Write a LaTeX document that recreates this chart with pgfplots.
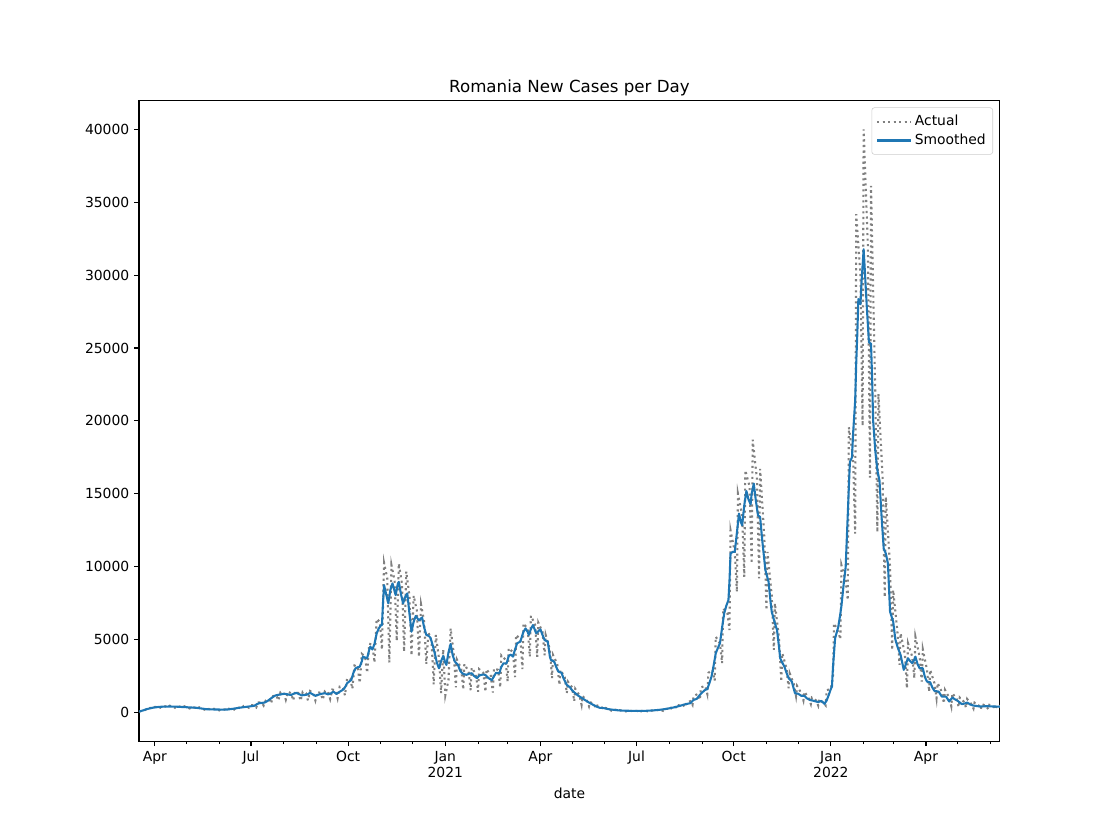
\documentclass[border=0pt]{standalone}
\usepackage{fontspec}
\setmainfont{DejaVu Sans}
\usepackage{pgfplots}
\pgfplotsset{compat=1.18}
\definecolor{tabblue}{HTML}{1F77B4}
\definecolor{mplgray}{HTML}{808080}
\begin{document}
\begin{tikzpicture}
\path[use as bounding box] (-100.08pt,-66.24pt) rectangle (699.92pt,533.76pt);
\begin{axis}[
  scale only axis,
  width=619.92pt, height=461.52pt,
  xmin=76, xmax=891, ymin=-2000, ymax=42000,
  axis line style={line width=0.8pt},
  tick align=outside,
  tick pos=left,
  major tick length=3.5pt, minor tick length=2pt,
  major tick style={black, line width=0.8pt},
  minor tick style={black, line width=0.6pt},
  xtick={91,182,274,366,456,547,639,731,821},
  xticklabels={Apr,Jul,Oct,{Jan\\2021},Apr,Jul,Oct,{Jan\\2022},Apr},
  minor xtick={121,152,213,244,305,335,397,425,486,517,578,609,670,700,762,790,851,882},
  ytick={0,5000,10000,15000,20000,25000,30000,35000,40000},
  scaled y ticks=false,
  /pgf/number format/1000 sep={},
  /pgf/number format/assume math mode=true,
  tick label style={font=\fontsize{10}{12}\selectfont},
  xticklabel style={align=center},
  xlabel={date},
  xlabel style={font=\fontsize{10}{12}\selectfont},
  title={Romania New Cases per Day},
  title style={font=\fontsize{12}{14.4}\selectfont, at={(0.5,1)}, anchor=south, yshift=-3.4pt, inner sep=0pt},
  legend cell align=left,
  legend image code/.code={\draw[#1] (0pt,0pt) -- (21pt,0pt); \path (0pt,0pt) -- (24.5pt,0pt);},
  legend style={at={(0.992,0.989)}, anchor=north east, draw=black!20, rounded corners=2pt,
    fill=white, font=\fontsize{10}{12}\selectfont, inner xsep=3pt, inner ysep=3.5pt, row sep=0.5pt},
]
\addplot[mplgray, line width=1.5pt, dash pattern=on 1.5pt off 2.475pt] coordinates {
(76,30) (80,110) (82,150) (84,260) (87,290) (89,250) (91,360) (94,340) (96,300) (98,430)
(101,400) (103,320) (105,440) (108,380) (110,300) (112,430) (115,370) (117,290) (119,400) (122,330)
(124,250) (126,370) (129,300) (131,230) (133,330) (136,250) (138,170) (140,260) (143,200) (145,140)
(147,230) (150,180) (152,120) (154,210) (157,180) (159,120) (161,230) (164,220) (166,170) (168,330)
(171,300) (173,220) (175,420) (178,400) (180,300) (182,470) (185,470) (187,330) (189,660) (192,680)
(194,450) (196,800) (199,900) (201,600) (203,1100) (206,1150) (208,800) (210,1380) (213,1350) (215,850)
(217,1400) (220,1300) (222,800) (224,1450) (227,1300) (229,780) (231,1400) (234,1300) (236,800) (238,1450)
(241,1300) (243,800) (245,1400) (248,1300) (250,850) (252,1450) (255,1400) (257,900) (259,1550) (262,1500)
(264,950) (266,1750) (269,1700) (271,1150) (273,2300) (276,2300) (278,1600) (280,3200) (283,3100) (285,2000)
(287,4000) (290,3800) (292,2700) (294,4700) (297,4600) (299,3400) (301,6400) (304,6200) (306,4300) (308,10250)
(311,9200) (313,3400) (315,10100) (318,9000) (320,4900) (322,10200) (325,8800) (327,4150) (329,9650) (332,8000)
(334,3900) (336,8000) (339,7000) (341,3800) (343,7400) (346,6200) (348,3300) (350,5500) (353,4800) (355,1900)
(357,5300) (360,3700) (362,1300) (364,4300) (366,1150) (369,2200) (371,5750) (374,4000) (376,1700) (377,3600)
(381,3000) (383,1550) (384,3300) (388,2800) (390,1500) (391,3050) (395,2600) (397,1400) (398,2950) (402,2700)
(404,1400) (405,2950) (409,2500) (411,1350) (412,3000) (416,2900) (418,1700) (419,3900) (423,3600) (425,2100)
(426,4400) (430,4100) (432,2400) (433,5300) (437,5000) (439,2950) (440,6100) (444,5700) (446,3800) (447,6620)
(451,6000) (453,3800) (454,6150) (458,5500) (460,3900) (461,5300) (465,4300) (467,2330) (468,3920) (472,3300)
(474,1870) (475,2900) (479,2400) (481,1300) (482,2100) (486,1700) (488,750) (489,1600) (493,1150) (495,500)
(496,1100) (500,800) (502,400) (503,700) (507,500) (509,250) (510,450) (514,330) (516,180) (517,300)
(521,230) (523,110) (524,200) (528,150) (530,70) (531,130) (535,100) (537,50) (538,100) (542,85)
(544,40) (545,90) (549,75) (551,40) (552,90) (556,85) (558,45) (559,100) (563,100) (565,60)
(566,140) (570,150) (572,90) (573,220) (577,230) (579,150) (580,320) (584,360) (586,250) (587,480)
(591,500) (593,330) (594,650) (598,750) (600,500) (601,1100) (605,1250) (607,840) (608,1700) (612,1800)
(614,1250) (615,2700) (619,2900) (621,2160) (622,5180) (626,4700) (628,3360) (629,7120) (633,6800) (635,5640)
(636,12490) (640,11000) (642,8260) (643,15000) (647,13500) (649,9290) (650,16600) (654,15500) (656,10200) (657,18700)
(661,16000) (663,9180) (664,16700) (668,12000) (670,7010) (671,11000) (675,8000) (677,4270) (678,7470) (682,5000)
(684,2100) (685,4040) (689,3000) (691,1640) (692,2670) (696,1900) (698,1100) (699,1800) (703,1300) (705,800)
(706,1400) (710,950) (712,560) (713,1000) (717,800) (719,450) (720,900) (724,600) (726,450) (727,1500)
(731,1600) (733,2500) (734,6100) (738,5500) (740,5000) (741,10090) (745,9000) (747,7690) (748,19560) (752,17500)
(754,12260) (755,34180) (759,30000) (761,19650) (762,40000) (766,32000) (768,16100) (769,36120) (773,22000) (775,12350)
(776,21850) (780,16000) (782,7900) (783,14770) (787,10000) (789,4270) (790,8380) (794,5500) (796,3240) (797,5410)
(801,4000) (803,1640) (804,4730) (808,3800) (810,2330) (811,5180) (815,3800) (817,2100) (818,4320) (822,2900)
(824,1410) (825,2900) (829,2000) (831,960) (832,1990) (836,1400) (838,600) (839,1530) (843,1000) (845,400)
(846,1300) (850,900) (852,350) (853,1000) (857,700) (859,300) (860,900) (864,550) (866,250) (867,650)
(871,450) (873,200) (874,550) (878,420) (880,200) (881,500) (885,400) (887,180) (888,500) (891,400)
};
\addlegendentry{Actual}
\addplot[tabblue, line width=1.5pt, line join=round] coordinates {
(76,40) (80,120) (83,200) (87,270) (90,315) (95,360) (100,380) (105,385) (110,380) (115,360)
(120,340) (125,320) (130,300) (135,250) (140,200) (145,185) (150,180) (155,175) (160,180) (165,230)
(170,290) (175,340) (180,385) (185,430) (188,560) (190,615) (193,640) (195,660) (198,780) (200,890)
(203,1050) (205,1140) (208,1190) (210,1210) (213,1260) (215,1250) (218,1200) (220,1180) (223,1280) (225,1320)
(228,1220) (230,1150) (233,1180) (235,1200) (238,1320) (241,1200) (243,1120) (246,1200) (249,1260) (252,1300)
(255,1220) (258,1300) (260,1410) (263,1250) (266,1400) (269,1530) (271,1700) (273,1985) (275,2100) (277,2210)
(279,2700) (281,3010) (283,3080) (285,3120) (287,3500) (288,3810) (290,3750) (292,3700) (294,4300) (295,4490)
(297,4300) (299,4700) (301,5400) (303,5750) (305,5950) (306,5980) (307,7500) (308,8720) (310,8100) (312,7470)
(314,8400) (316,8830) (318,8300) (319,8030) (321,8800) (322,8945) (324,8100) (326,7465) (328,7900) (330,8150)
(332,6800) (334,5520) (336,6200) (338,6600) (341,6300) (344,6500) (346,5800) (348,5300) (350,5250) (352,5100)
(354,4600) (356,4040) (358,3400) (360,3010) (362,3500) (364,3850) (366,3400) (367,3240) (369,4100) (371,4680)
(373,3900) (375,3470) (378,3240) (380,2850) (382,2670) (384,2600) (386,2560) (389,2650) (391,2670) (393,2500)
(396,2330) (398,2500) (400,2560) (402,2580) (404,2550) (407,2330) (410,2200) (412,2450) (414,2700) (417,2670)
(419,3100) (421,3350) (424,3350) (426,3850) (428,3950) (430,3810) (432,4300) (434,4730) (437,4840) (439,5300)
(440,5520) (442,5750) (444,5500) (445,5300) (447,5700) (449,5980) (452,5410) (454,5550) (456,5690) (458,5300)
(460,4950) (463,4840) (465,3800) (466,3580) (469,3470) (471,3100) (473,2780) (476,2700) (478,2300) (481,1870)
(484,1700) (486,1500) (489,1300) (492,1120) (494,1030) (498,840) (503,615) (506,500) (509,385) (512,300)
(516,275) (520,210) (525,160) (530,120) (535,100) (541,90) (548,80) (556,90) (563,120) (569,160)
(574,210) (579,275) (584,350) (588,430) (592,520) (595,570) (598,615) (601,840) (604,910) (607,1185)
(609,1340) (612,1530) (614,1575) (616,2000) (618,2440) (620,3200) (622,4040) (624,4400) (626,4730) (628,5800)
(630,6780) (632,7300) (634,7690) (635,9000) (636,10890) (638,11000) (640,11000) (642,12300) (644,13630) (646,13000)
(647,12830) (649,14200) (651,15180) (653,14600) (655,14270) (656,15000) (658,15690) (660,14500) (662,13510) (664,13400)
(666,11800) (669,9750) (672,8950) (674,7500) (675,6890) (678,6100) (680,5640) (682,4400) (683,3700) (685,3400)
(687,3120) (689,2700) (691,2330) (694,2100) (697,1300) (700,1260) (703,1120) (706,1120) (708,960) (711,840)
(715,770) (719,690) (722,770) (725,570) (727,800) (729,1185) (731,1600) (732,1750) (733,3120) (735,5070)
(737,5600) (738,5860) (740,6780) (741,7300) (743,8720) (745,9970) (746,11800) (747,13600) (748,15450) (749,17170)
(751,17500) (752,19100) (754,21400) (755,24000) (756,25960) (757,28360) (759,28000) (760,29500) (762,31780) (763,30500)
(765,27800) (767,25400) (769,25280) (770,23000) (771,20000) (773,17960) (775,16600) (777,15900) (779,13400) (781,11230)
(783,10890) (785,10200) (787,6900) (790,6200) (792,5000) (794,4500) (797,3920) (800,2900) (802,3300) (804,3700)
(806,3500) (808,3360) (810,3600) (811,3810) (813,3300) (815,3010) (818,3010) (820,2400) (822,2100) (825,2050)
(827,1700) (829,1460) (833,1410) (836,1070) (840,1070) (843,730) (846,1000) (848,900) (851,775) (855,550)
(858,600) (860,660) (863,520) (866,450) (869,420) (872,385) (876,400) (879,410) (883,390) (887,385)
(891,370)
};
\addlegendentry{Smoothed}
\end{axis}
\end{tikzpicture}
\end{document}
